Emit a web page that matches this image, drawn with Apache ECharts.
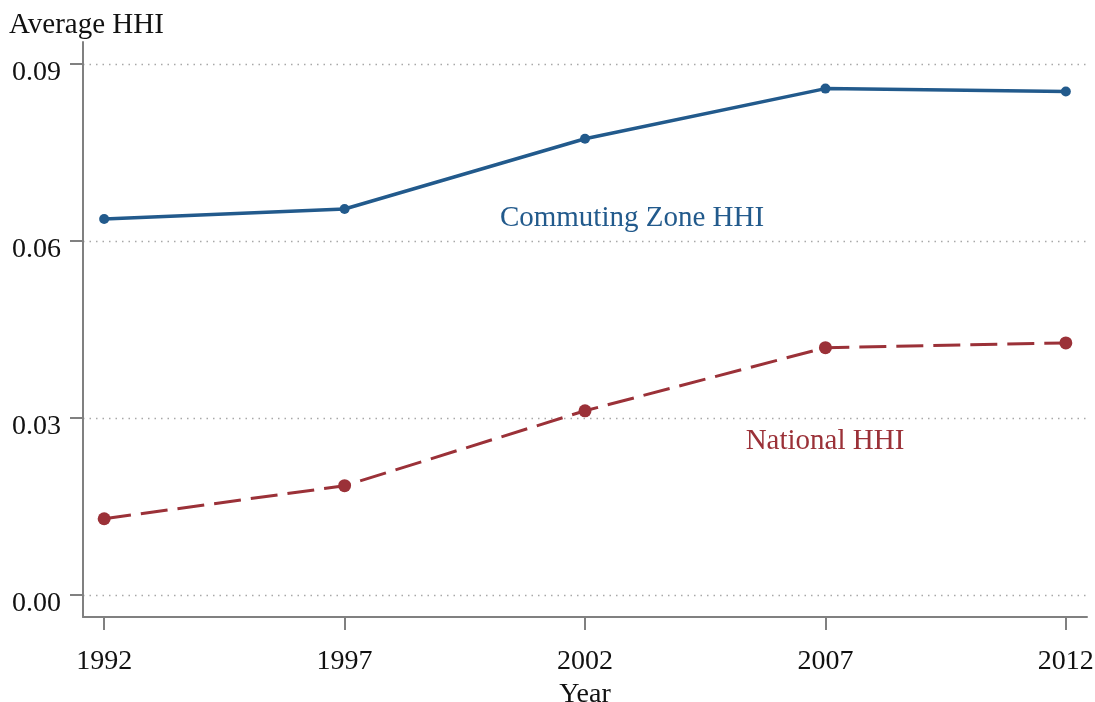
<!DOCTYPE html>
<html>
<head>
<meta charset="utf-8">
<script src="https://cdn.jsdelivr.net/npm/echarts@6/dist/echarts.min.js"></script>
<style>
html, body { margin: 0; padding: 0; background: #fff; }
#chart { width: 1095px; height: 702px; }
</style>
</head>
<body>
<div id="chart"></div>
<script>
var years = [1992, 1997, 2002, 2007, 2012];
var czHHI = [0.0637, 0.0654, 0.0773, 0.0858, 0.0853];
var natHHI = [0.0129, 0.0185, 0.0312, 0.0419, 0.0427];
var yTicks = [0, 0.03, 0.06, 0.09];

var blue = '#225a8c';
var red = '#9b3138';
var font = '"Liberation Serif", "DejaVu Serif", serif';

function pairs(xs, ys) {
    return xs.map(function (x, i) { return [x, ys[i]]; });
}

var chart = echarts.init(document.getElementById('chart'));
chart.setOption({
    animation: false,
    backgroundColor: '#fff',
    grid: { left: 83, right: 8, top: 42, bottom: 85, containLabel: false, outerBoundsMode: 'none' },
    xAxis: {
        type: 'value',
        min: 1991.56,
        max: 2012.44,
        axisLine: { show: true, onZero: false, lineStyle: { color: '#808080', width: 2 } },
        axisTick: { show: true, length: 13, customValues: years, lineStyle: { color: '#808080', width: 2 } },
        axisLabel: {
            customValues: years, margin: 31, color: '#111', fontFamily: font, fontSize: 28,
            formatter: function (v) { return String(v); }
        },
        splitLine: { show: false },
        name: 'Year',
        nameLocation: 'middle',
        nameGap: 61,
        nameTextStyle: { color: '#111', fontFamily: font, fontSize: 28 }
    },
    yAxis: {
        type: 'value',
        min: -0.00375,
        max: 0.0937,
        axisLine: { show: true, onZero: false, lineStyle: { color: '#808080', width: 2 } },
        axisTick: { show: true, length: 13, customValues: yTicks, lineStyle: { color: '#808080', width: 2 } },
        axisLabel: {
            customValues: yTicks, margin: 22, color: '#111', fontFamily: font, fontSize: 28,
            formatter: function (v) { return '{t|' + v.toFixed(2) + '}'; },
            rich: { t: { color: '#111', fontFamily: font, fontSize: 28, padding: [17, 0, 0, 0] } }
        },
        splitLine: { show: true, lineStyle: { color: '#a8a8a8', width: 1.3, type: [1.5, 5] } }
    },
    graphic: [
        { type: 'text', x: 9, y: 25, style: { text: 'Average HHI', fill: '#111', font: '29px ' + font, verticalAlign: 'middle' } },
        { type: 'text', x: 632, y: 218, style: { text: 'Commuting Zone HHI', fill: blue, font: '29px ' + font, align: 'center', verticalAlign: 'middle' } },
        { type: 'text', x: 825, y: 441, style: { text: 'National HHI', fill: red, font: '29px ' + font, align: 'center', verticalAlign: 'middle' } }
    ],
    series: [
        {
            name: 'Commuting Zone HHI',
            type: 'line',
            data: pairs(years, czHHI),
            symbol: 'circle',
            symbolSize: 10,
            itemStyle: { color: blue },
            lineStyle: { color: blue, width: 3.5 }
        },
        {
            name: 'National HHI',
            type: 'line',
            data: pairs(years, natHHI),
            symbol: 'circle',
            symbolSize: 13,
            itemStyle: { color: red },
            lineStyle: { color: red, width: 3, type: [27, 10] }
        }
    ]
});
</script>
</body>
</html>
